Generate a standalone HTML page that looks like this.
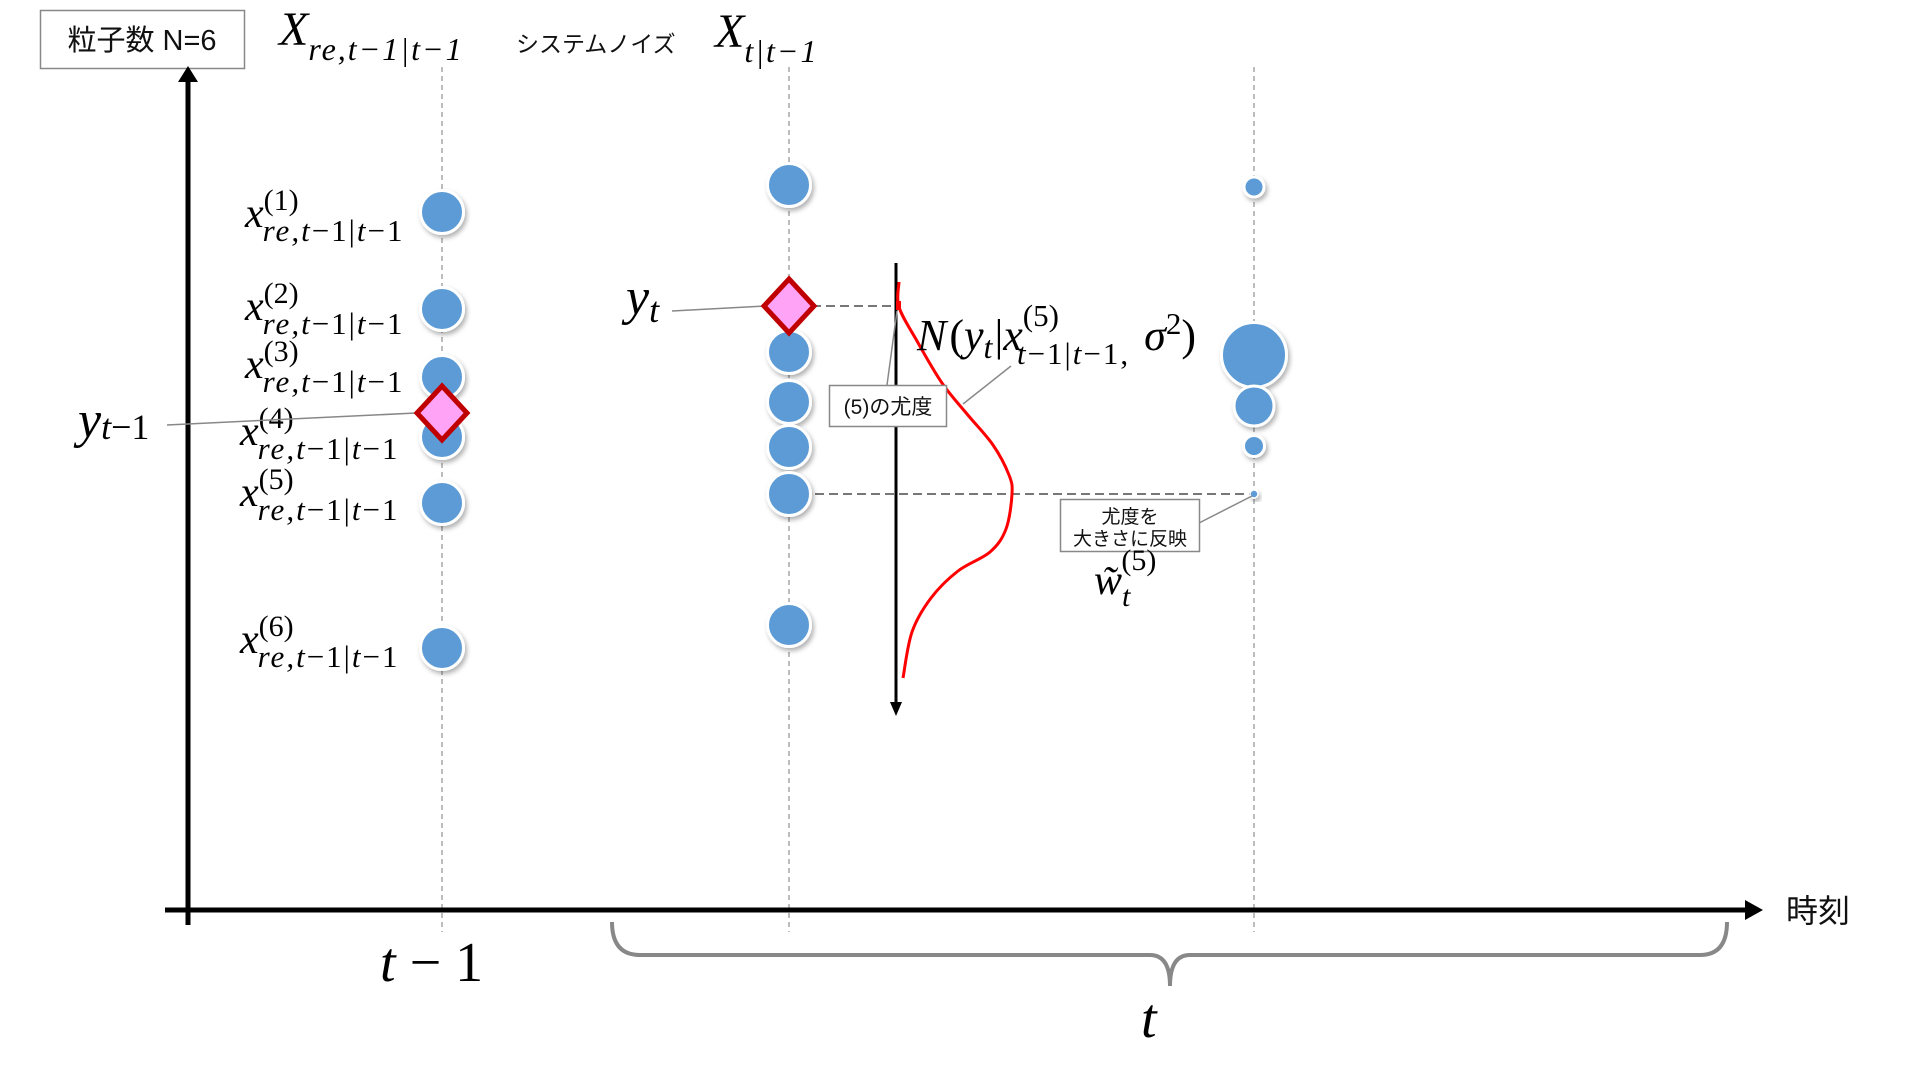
<!DOCTYPE html>
<html><head><meta charset="utf-8"><style>
html,body{margin:0;padding:0;background:#fff;}
svg{display:block;}
.m{font-family:"Liberation Serif",serif;font-style:italic;fill:#000;}
.r{font-family:"Liberation Serif",serif;font-style:normal;fill:#000;}
.j{font-family:"Liberation Sans","Noto Sans CJK JP",sans-serif;fill:#111;}
</style></head><body>
<svg id="chart" width="1920" height="1080" viewBox="0 0 1920 1080">
<defs>
<filter id="sh" x="-50%" y="-50%" width="200%" height="200%"><feDropShadow dx="2" dy="3" stdDeviation="2.5" flood-color="#000" flood-opacity="0.3"/></filter>
</defs>

<g>
<rect x="40.5" y="10.5" width="204" height="58" fill="#fff" stroke="#888" stroke-width="1.5"/>
<text class="j" x="142" y="50" font-size="29" text-anchor="middle">粒子数 N=6</text>
</g>

<g>
<text class="m" x="279" y="45" font-size="48">X<tspan font-size="32" dy="15" letter-spacing="2">re,t−1|t−1</tspan></text>
<text class="j" x="516" y="52" font-size="23">システムノイズ</text>
<text class="m" x="715" y="47" font-size="48">X<tspan font-size="32" dy="15" letter-spacing="2">t|t−1</tspan></text>
</g>

<g id="guides"></g>

<line x1="188" y1="925" x2="188" y2="78" stroke="#000" stroke-width="5"/>
<path d="M178,82 L188,66 L198,82 z" fill="#000"/>
<line x1="165" y1="910" x2="1748" y2="910" stroke="#000" stroke-width="5"/>
<path d="M1745,900 L1763,910 L1745,920 z" fill="#000"/>
<text class="j" x="1786" y="922" font-size="32">時刻</text>

<text class="m" x="380" y="981" font-size="56">t <tspan class="r">−</tspan> <tspan class="r">1</tspan></text>
<path d="M612,922 Q612,955 640,955 L1150,955 Q1170,955 1170,986 Q1170,955 1190,955 L1700,955 Q1727,955 1727,922" fill="none" stroke="#888" stroke-width="4"/>
<text class="m" x="1141" y="1037" font-size="56">t</text>

<line x1="896" y1="263" x2="896" y2="706" stroke="#000" stroke-width="3"/>
<path d="M890,702 L896,716 L902,702 z" fill="#000"/>

<line x1="812" y1="306" x2="896" y2="306" stroke="#777" stroke-width="2" stroke-dasharray="9,5"/>
<line x1="815" y1="494" x2="1250" y2="494" stroke="#777" stroke-width="2" stroke-dasharray="9,5"/>

<path id="gauss" fill="none" stroke="#f00" stroke-width="3"/>
<rect x="896" y="301" width="5" height="9" fill="#f00"/>

<g id="particles"></g>
<g id="labels"></g>

<line x1="167" y1="425" x2="416" y2="413" stroke="#888" stroke-width="1.5"/>
<text class="m" x="78" y="437" font-size="52">y<tspan font-size="36" dy="2">t</tspan><tspan class="r" font-size="36">−1</tspan></text>
<line x1="672" y1="311" x2="765" y2="306" stroke="#888" stroke-width="1.5"/>
<text class="m" x="626" y="314" font-size="52">y<tspan font-size="36" dy="8">t</tspan></text>

<g id="diamonds"></g>

<line x1="887" y1="385" x2="897" y2="311" stroke="#888" stroke-width="1.5"/>
<rect x="829.5" y="385.5" width="117" height="41" fill="#fff" stroke="#888" stroke-width="1.5"/>
<text class="j" x="888" y="414" font-size="21" text-anchor="middle">(5)の尤度</text>

<line x1="1011" y1="366" x2="963" y2="404" stroke="#888" stroke-width="1.5"/>
<text class="m" x="917" y="350" font-size="44">N<tspan class="r" dx="3">(</tspan>y<tspan font-size="32" dy="8">t</tspan><tspan class="r" dy="-8" dx="2">|</tspan>x<tspan class="r" font-size="31" dy="-24">(5)</tspan><tspan font-size="31" dx="-42" dy="38" letter-spacing="2">t</tspan><tspan class="r" font-size="31" letter-spacing="2">−1|</tspan><tspan font-size="31" letter-spacing="2">t</tspan><tspan class="r" font-size="31" letter-spacing="2">−1,</tspan><tspan dy="-14" dx="14">σ</tspan><tspan class="r" font-size="31" dy="-16">2</tspan><tspan class="r" dy="16">)</tspan></text>

<line x1="1199" y1="523" x2="1252" y2="496" stroke="#888" stroke-width="1.5"/>
<rect x="1060.5" y="499.5" width="139" height="52" fill="#fff" stroke="#888" stroke-width="1.5"/>
<text class="j" x="1130" y="523" font-size="19" text-anchor="middle">尤度を</text>
<text class="j" x="1130" y="545" font-size="19" text-anchor="middle">大きさに反映</text>
<text class="m" x="1094" y="594" font-size="42">w̃<tspan font-size="30" dy="12">t</tspan><tspan class="r" font-size="30" dx="-9" dy="-36">(5)</tspan></text>
</svg>
<script>
const colX = [442, 789, 1254];
const col1Y = [212, 309, 377, 437, 503, 648];
const col2Y = [185, 352, 402, 447, 494, 625];
const col3Y = [187, 355, 406, 446, 494];
const col3R = [10, 32.5, 20, 10.5, 4];
const particleR = 21.5;
const obsCol = [0, 1];
const obsY = [413, 306];
const gaussX = [899, 899, 917, 942, 967, 993, 1009, 1012, 1006, 990, 958, 931, 912, 903];
const gaussY = [282, 307, 341, 383, 414, 445, 475, 494, 529, 552, 571, 598, 632, 678];
const labelY = [227, 320, 378, 445, 506, 653];
const labelX = [245, 245, 245, 240, 240, 240];

const NS = 'http://www.w3.org/2000/svg';
const g = document.getElementById('guides');
colX.forEach((x, i) => {
  const l = document.createElementNS(NS, 'line');
  l.setAttribute('x1', x); l.setAttribute('x2', x);
  l.setAttribute('y1', 67); l.setAttribute('y2', 932);
  l.setAttribute('stroke', '#999'); l.setAttribute('stroke-width', 1.3);
  l.setAttribute('stroke-dasharray', '5,4');
  
  
  g.appendChild(l);
});

const pg = document.getElementById('particles');
function dot(x, y, r, name) {
  const c = document.createElementNS(NS, 'circle');
  c.setAttribute('cx', x); c.setAttribute('cy', y); c.setAttribute('r', r);
  c.setAttribute('fill', '#5b9bd5'); c.setAttribute('stroke', '#fff');
  c.setAttribute('stroke-width', r > 6 ? 3 : 1.5); c.setAttribute('filter', 'url(#sh)');
  
  
  pg.appendChild(c);
}
col1Y.forEach((y, i) => dot(colX[0], y, particleR, 'resampled-particle-' + (i + 1)));
col2Y.forEach((y, i) => dot(colX[1], y, particleR, 'predicted-particle-' + (i + 1)));
col3Y.forEach((y, i) => dot(colX[2], y, col3R[i], 'weighted-particle-' + (i + 1)));

const dg = document.getElementById('diamonds');
obsY.forEach((y, i) => {
  const x = colX[obsCol[i]];
  const p = document.createElementNS(NS, 'path');
  p.setAttribute('d', `M${x},${y - 27} L${x + 25},${y} L${x},${y + 27} L${x - 25},${y} Z`);
  p.setAttribute('fill', '#ffa3f7'); p.setAttribute('stroke', '#c00000');
  p.setAttribute('stroke-width', 5);
  
  
  dg.appendChild(p);
});

// smooth Catmull-Rom through curve points
let d = 'M' + gaussX[0] + ',' + gaussY[0];
for (let i = 0; i < gaussX.length - 1; i++) {
  const i0 = Math.max(0, i - 1), i3 = Math.min(gaussX.length - 1, i + 2);
  const c1x = gaussX[i] + (gaussX[i + 1] - gaussX[i0]) / 6;
  const c1y = gaussY[i] + (gaussY[i + 1] - gaussY[i0]) / 6;
  const c2x = gaussX[i + 1] - (gaussX[i3] - gaussX[i]) / 6;
  const c2y = gaussY[i + 1] - (gaussY[i3] - gaussY[i]) / 6;
  d += ` C${c1x},${c1y} ${c2x},${c2y} ${gaussX[i + 1]},${gaussY[i + 1]}`;
}
document.getElementById('gauss').setAttribute('d', d);

const lg = document.getElementById('labels');
labelY.forEach((y, i) => {
  const t = document.createElementNS(NS, 'text');
  t.setAttribute('class', 'm');
  t.setAttribute('x', labelX[i]); t.setAttribute('y', y);
  t.setAttribute('font-size', 42);
  t.innerHTML = 'x<tspan class="r" font-size="30" dy="-17">(' + (i + 1) + ')</tspan>' +
    '<tspan font-size="31" dx="-36" dy="31" letter-spacing="2">re,t</tspan><tspan class="r" font-size="31" letter-spacing="2">−1|</tspan><tspan font-size="31" letter-spacing="2">t</tspan><tspan class="r" font-size="31" letter-spacing="2">−1</tspan>';
  
  
  lg.appendChild(t);
});
</script>
</body></html>
